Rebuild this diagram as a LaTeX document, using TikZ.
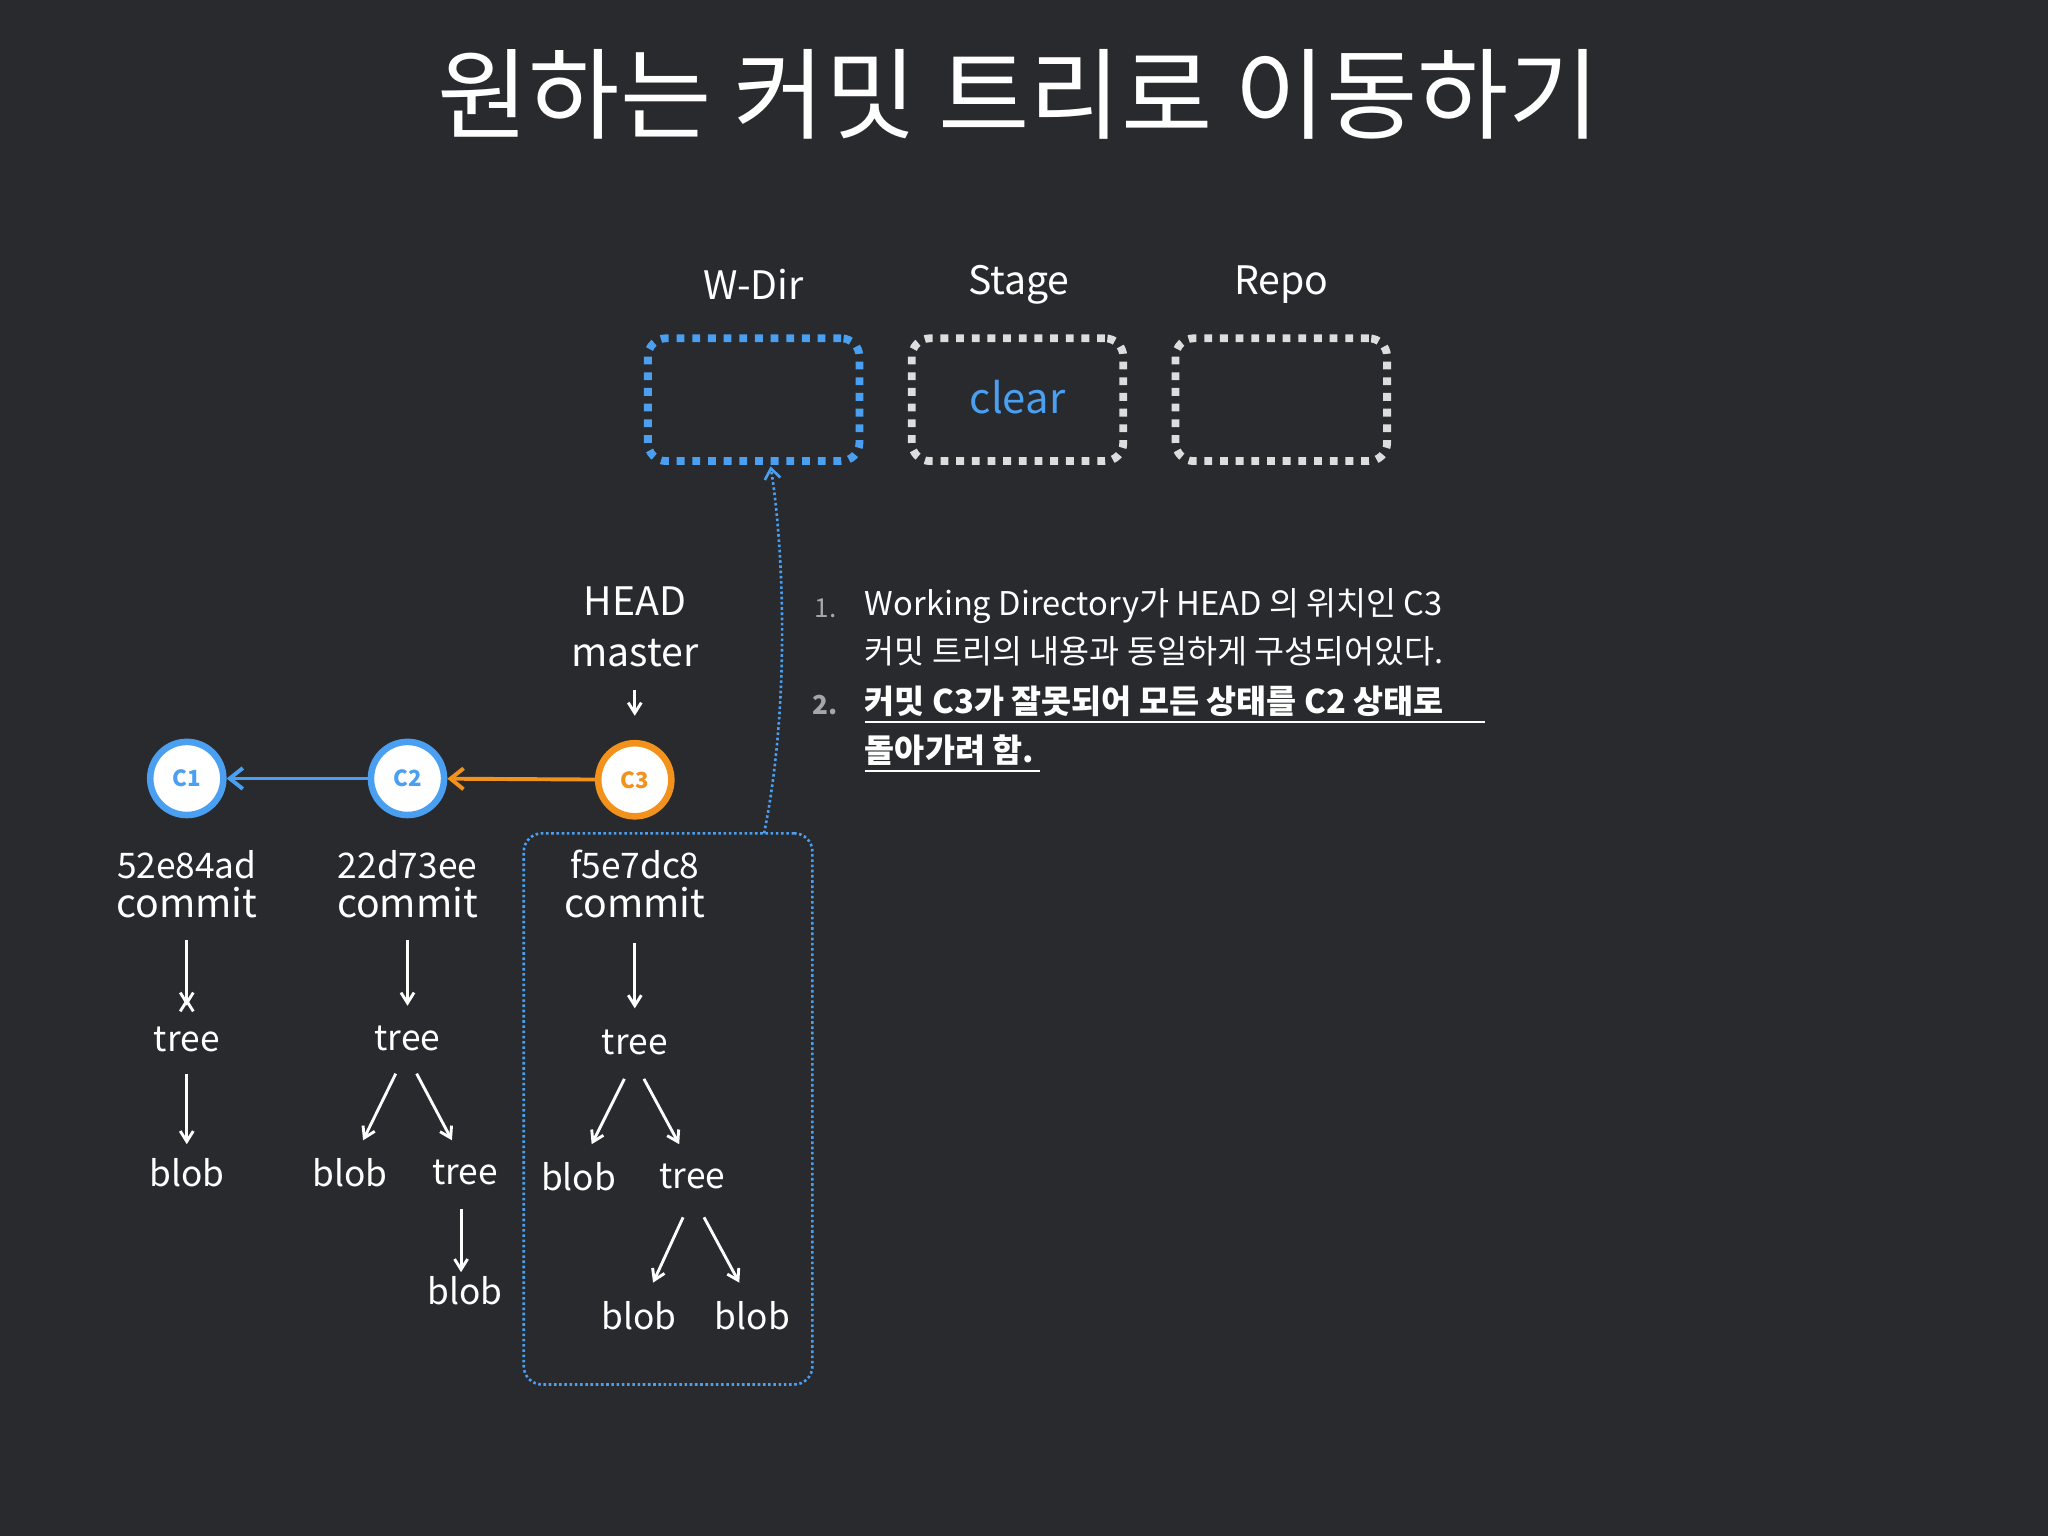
\documentclass[tikz,border=0pt]{standalone}
\usepackage{fontspec}
\setmainfont{Noto Sans CJK KR}
\usetikzlibrary{arrows.meta}
\definecolor{bg}{HTML}{282A2E}
\definecolor{cblue}{HTML}{4A9FF0}
\definecolor{corange}{HTML}{F2911B}
\definecolor{cgray}{HTML}{DDDDDD}
\begin{document}
\begin{tikzpicture}[x=1pt,y=-1pt,
  txt/.style={text=white,font=\fontsize{27}{30}\selectfont,inner sep=0},
  lbl/.style={text=white,font=\fontsize{30}{32}\selectfont,inner sep=0},
  cnode/.style={circle,line width=5pt,fill=white,minimum size=56pt,inner sep=0,font=\fontsize{17}{18}\selectfont\bfseries},
  area/.style={line width=6pt,dash pattern=on 6pt off 6pt,rounded corners=14pt,minimum width=162pt,minimum height=94pt},
  dn/.style={white,line width=2.2pt,-{Straight Barb[length=8pt,width=10pt]}},
  lst/.style={text=white,font=\fontsize{25}{30}\selectfont,inner sep=0,anchor=west}]
\fill[bg] (0,0) rectangle (1568,1176);
\useasboundingbox (0,0) rectangle (1568,1176);
\node[text=white,font=\fontsize{76}{80}\selectfont] (title) at (780,72) {원하는 커밋 트리로 이동하기};
\node[lbl] (lw) at (577,218) {W-Dir};
\node[lbl] (ls) at (780,218) {Stage};
\node[lbl] (lr) at (981,218) {Repo};
\node[area,draw=cblue] (wd) at (577,306) {};
\node[area,draw=cgray] (st) at (779,306) {};
\node[area,draw=cgray] (rp) at (981,306) {};
\node[text=cblue,font=\fontsize{32}{34}\selectfont] (clear) at (779,304) {clear};
\node[cnode,draw=cblue,text=cblue] (c1) at (143,596) {C1};
\node[cnode,draw=cblue,text=cblue] (c2) at (312,596) {C2};
\node[cnode,draw=corange,text=corange] (c3) at (486,597) {C3};
\draw[corange,line width=3pt,-{Straight Barb[length=10pt,width=16pt]}] (c3) -- (c2);
\draw[cblue,line width=3pt,-{Straight Barb[length=10pt,width=16pt]}] (c2) -- (c1);
\node[lbl] (head) at (486,460) {HEAD};
\node[lbl] (master) at (486,500) {master};
\coordinate (ma) at (486,528); \coordinate (mb) at (486,548);
\draw[dn] (ma) -- (mb);
% C1
\node[txt] (h1) at (143,662) {52e84ad};
\node[lbl] (m1) at (143,691) {commit};
\node[txt] (t1) at (143,796) {tree};
\node[txt] (b1) at (143,898) {blob};
\draw[dn] (m1.south)++(0,20) coordinate (a1) (t1.north)++(0,-22) coordinate (a2);
\draw[dn] (143,720) -- (143,770);
\draw[dn] (143,822) -- (143,876);
% C2
\node[txt] (h2) at (312,662) {22d73ee};
\node[lbl] (m2) at (312,691) {commit};
\node[txt] (t2) at (312,795) {tree};
\node[txt] (b2) at (268,898) {blob};
\node[txt] (t2b) at (356,898) {tree};
\node[txt] (b2b) at (356,988) {blob};
\draw[dn] (312,720) -- (312,770);
\draw[dn] (303,822) -- (278,873);
\draw[dn] (319,822) -- (346,873);
\draw[dn] (353,926) -- (353,974);
% C3
\node[txt] (h3) at (486,662) {f5e7dc8};
\node[lbl] (m3) at (486,691) {commit};
\node[txt] (t3) at (486,798) {tree};
\node[txt] (b3) at (443,901) {blob};
\node[txt] (t3b) at (530,901) {tree};
\node[txt] (b3c) at (489,1007) {blob};
\node[txt] (b3d) at (576,1007) {blob};
\draw[dn] (486,722) -- (486,772);
\draw[dn] (478,826) -- (453,876);
\draw[dn] (493,826) -- (520,876);
\draw[dn] (523,932) -- (500,982);
\draw[dn] (539,932) -- (566,982);
\node[draw=cblue,line width=2pt,dotted,rounded corners=14pt,minimum width=221pt,minimum height=422pt] (sel) at (511.5,849) {};
\coordinate (cs) at (585,638);
\draw[cblue,line width=2pt,dotted,-{Straight Barb[length=8pt,width=12pt]}] (cs) .. controls (605,540) and (600,420) .. (590,357);
% list
\node[text=gray!70,font=\fontsize{20}{24}\selectfont,inner sep=0] (n1) at (632,466) {1.};
\node[text=gray!70,font=\fontsize{20}{24}\selectfont\bfseries,inner sep=0] (n2) at (632,540) {2.};
\node[lst] (l1) at (662,464) {Working Directory가 HEAD 의 위치인 C3};
\node[lst] (l2) at (662,499) {커밋 트리의 내용과 동일하게 구성되어있다.};
\node[lst,font=\fontsize{25}{30}\selectfont\bfseries] (l3) at (662,537) {커밋 C3가 잘못되어 모든 상태를 C2 상태로};
\node[lst,font=\fontsize{25}{30}\selectfont\bfseries] (l4) at (662,574) {돌아가려 함.};
\draw[white,line width=1.5pt] (l3.south west)++(0,4) -- ++(475,0);
\draw[white,line width=1.5pt] (l4.south west)++(0,4) -- ++(134,0);
\end{tikzpicture}
\end{document}
